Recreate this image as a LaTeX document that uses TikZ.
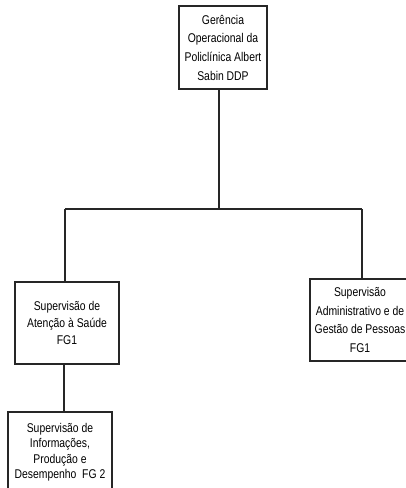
\documentclass[tikz,border=0pt]{standalone}
\usepackage{fontspec}
\setmainfont[FakeStretch=0.82]{Liberation Sans}
\begin{document}
\begin{tikzpicture}[x=0.75pt,y=-0.75pt,
  box/.style={draw=black!85, line width=1pt, inner sep=0pt, align=center, fill=white},
  conn/.style={draw=black!85, line width=0.9pt}]
\useasboundingbox (0,0) rectangle (406,488);
\clip (0,0) rectangle (406,488);
\fill[white] (0,0) rectangle (406,488);

\node[box, minimum width=66pt, minimum height=62.25pt, font=\fontsize{9.5}{14}\selectfont] (top) at (223,47.5)
  {Gerência\\Operacional da\\Policlínica Albert\\Sabin DDP};
\node[box, minimum width=78pt, minimum height=61.5pt, font=\fontsize{9.5}{12.75}\selectfont] (left) at (67,323)
  {Supervisão de\\Atenção à Saúde\\FG1};
\node[box, minimum width=75pt, minimum height=61.5pt, font=\fontsize{9.5}{14}\selectfont] (right) at (360,320)
  {Supervisão\\Administrativo e de\\Gestão de Pessoas\\FG1};
\node[box, minimum width=78pt, minimum height=60pt, font=\fontsize{9.5}{11.6}\selectfont] (bottom) at (60,452)
  {Supervisão de\\Informações,\\Produção e\\Desempenho\ \ FG 2};

\coordinate (jt) at (219,209);
\coordinate (jl) at (65,209);
\coordinate (jr) at (362,209);
\coordinate (jb) at (64,388);

\draw[conn] (top.south -| jt) -- (jt);
\draw[conn] (jl) -- (jr);
\draw[conn] (jl) -- (jl |- left.north);
\draw[conn] (jr) -- (jr |- right.north);
\draw[conn] (jb |- left.south) -- (jb |- bottom.north);
\end{tikzpicture}
\end{document}
